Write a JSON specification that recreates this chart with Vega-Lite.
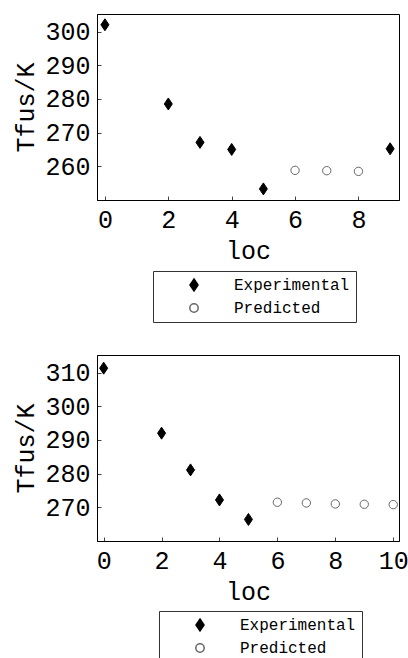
{
  "$schema": "https://vega.github.io/schema/vega-lite/v6.json",
  "padding": {"left": 13, "top": 13, "right": 0, "bottom": 5},
  "datasets": {
    "top": [
      {"loc": 0, "T": 302.0, "type": "Experimental"},
      {"loc": 2, "T": 278.5, "type": "Experimental"},
      {"loc": 3, "T": 267.1, "type": "Experimental"},
      {"loc": 4, "T": 265.0, "type": "Experimental"},
      {"loc": 5, "T": 253.3, "type": "Experimental"},
      {"loc": 6, "T": 258.8, "type": "Predicted"},
      {"loc": 7, "T": 258.7, "type": "Predicted"},
      {"loc": 8, "T": 258.5, "type": "Predicted"},
      {"loc": 9, "T": 265.2, "type": "Experimental"}
    ],
    "bottom": [
      {"loc": 0, "T": 311.3, "type": "Experimental"},
      {"loc": 2, "T": 292.0, "type": "Experimental"},
      {"loc": 3, "T": 281.1, "type": "Experimental"},
      {"loc": 4, "T": 272.2, "type": "Experimental"},
      {"loc": 5, "T": 266.4, "type": "Experimental"},
      {"loc": 6, "T": 271.5, "type": "Predicted"},
      {"loc": 7, "T": 271.3, "type": "Predicted"},
      {"loc": 8, "T": 271.0, "type": "Predicted"},
      {"loc": 9, "T": 270.9, "type": "Predicted"},
      {"loc": 10, "T": 270.8, "type": "Predicted"}
    ]
  },
  "config": {
    "view": {"stroke": "black", "strokeWidth": 1},
    "axis": {
      "labelFont": "Liberation Mono",
      "labelFontSize": 25,
      "labelColor": "black",
      "titleFont": "Liberation Mono",
      "titleFontSize": 25,
      "titleFontWeight": "normal",
      "titleColor": "black",
      "grid": false,
      "domainColor": "black",
      "tickColor": "#444",
      "tickSize": -4,
      "labelPadding": 11
    },
    "legend": {
      "labelFont": "Liberation Mono",
      "labelFontSize": 16,
      "labelColor": "black",
      "strokeColor": "#333",
      "padding": 6,
      "rowPadding": 6,
      "symbolOffset": 27,
      "labelOffset": 32,
      "orient": "none"
    }
  },
  "spacing": 31,
  "resolve": {"legend": {"shape": "independent", "fill": "independent", "stroke": "independent", "size": "independent"}, "scale": {"x": "independent", "y": "independent"}},
  "vconcat": [
    {
      "width": 302,
      "height": 186,
      "data": {"name": "top"},
      "mark": {"type": "point", "filled": false, "strokeWidth": 1, "opacity": 1},
      "encoding": {
        "x": {"field": "loc", "type": "quantitative", "title": "loc",
              "scale": {"domain": [-0.25, 9.28], "nice": false, "zero": false},
              "axis": {"values": [0, 2, 4, 6, 8], "titlePadding": 6}},
        "y": {"field": "T", "type": "quantitative", "title": "Tfus/K",
              "scale": {"domain": [250, 305.2], "nice": false, "zero": false},
              "axis": {"values": [260, 270, 280, 290, 300], "titlePadding": 6}},
        "shape": {"field": "type", "type": "nominal",
                  "scale": {"domain": ["Experimental", "Predicted"], "range": ["M0,-1L0.67,0L0,1L-0.67,0Z", "circle"]},
                  "legend": {"title": null, "legendX": 56, "legendY": 257}},
        "fill": {"field": "type", "type": "nominal",
                 "scale": {"domain": ["Experimental", "Predicted"], "range": ["black", "white"]},
                 "legend": {"title": null, "legendX": 56, "legendY": 257}},
        "stroke": {"field": "type", "type": "nominal",
                   "scale": {"domain": ["Experimental", "Predicted"], "range": ["black", "#666666"]},
                   "legend": {"title": null, "legendX": 56, "legendY": 257}},
        "size": {"field": "type", "type": "nominal",
                 "scale": {"domain": ["Experimental", "Predicted"], "range": [144, 70]},
                 "legend": {"title": null, "legendX": 56, "legendY": 257}}
      }
    },
    {
      "width": 302,
      "height": 186,
      "data": {"name": "bottom"},
      "mark": {"type": "point", "filled": false, "strokeWidth": 1, "opacity": 1},
      "encoding": {
        "x": {"field": "loc", "type": "quantitative", "title": "loc",
              "scale": {"domain": [-0.23, 10.2], "nice": false, "zero": false},
              "axis": {"values": [0, 2, 4, 6, 8, 10], "titlePadding": 6}},
        "y": {"field": "T", "type": "quantitative", "title": "Tfus/K",
              "scale": {"domain": [260, 315.2], "nice": false, "zero": false},
              "axis": {"values": [270, 280, 290, 300, 310], "titlePadding": 6}},
        "shape": {"field": "type", "type": "nominal",
                  "scale": {"domain": ["Experimental", "Predicted"], "range": ["M0,-1L0.67,0L0,1L-0.67,0Z", "circle"]},
                  "legend": {"title": null, "legendX": 62, "legendY": 256}},
        "fill": {"field": "type", "type": "nominal",
                 "scale": {"domain": ["Experimental", "Predicted"], "range": ["black", "white"]},
                 "legend": {"title": null, "legendX": 62, "legendY": 256}},
        "stroke": {"field": "type", "type": "nominal",
                   "scale": {"domain": ["Experimental", "Predicted"], "range": ["black", "#666666"]},
                   "legend": {"title": null, "legendX": 62, "legendY": 256}},
        "size": {"field": "type", "type": "nominal",
                 "scale": {"domain": ["Experimental", "Predicted"], "range": [144, 70]},
                 "legend": {"title": null, "legendX": 62, "legendY": 256}}
      }
    }
  ]
}
